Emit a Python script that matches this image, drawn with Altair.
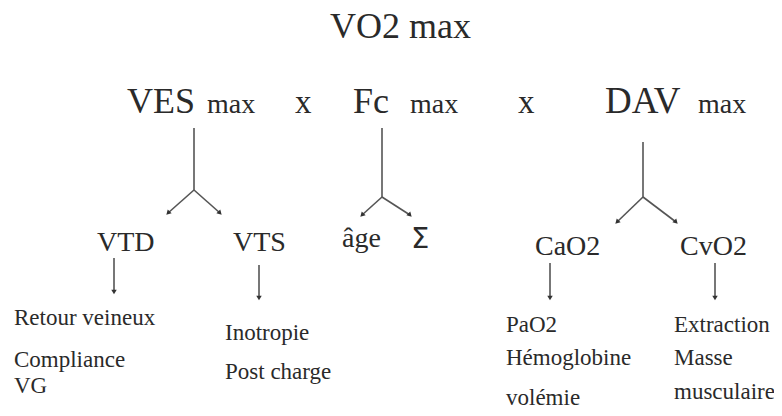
import altair as alt
import pandas as pd

# ---- text nodes (left edge x, baseline y, font size) ----
labels = ["VO2 max", "VES", "max", "x", "Fc", "max", "x", "DAV", "max",
          "VTD", "VTS", "âge", "CaO2", "CvO2",
          "Retour veineux", "Compliance", "VG", "Inotropie", "Post charge",
          "PaO2", "Hémoglobine", "volémie", "Extraction", "Masse", "musculaire"]
label_x = [330, 127, 207, 295, 353, 410, 518, 605, 698,
           97, 233, 342, 535, 680,
           14, 14, 14, 225, 225,
           506, 506, 506, 674, 674, 674]
label_y = [38, 113, 113, 113, 113, 113, 113, 113, 113,
           251, 251, 247, 255, 255,
           325, 367, 393, 340, 379,
           332, 365, 405, 332, 365, 399]
label_size = [36, 36, 28, 33, 36, 28, 33, 37, 28,
              28, 28, 28, 28, 28,
              23, 23, 23, 23, 23,
              23, 23, 23, 23, 23, 23]

# Sigma symbol (sans font)
sigma_label = ["Σ"]
sigma_x = [411]
sigma_y = [248]
sigma_size = [29]

# ---- connector segments ----
seg_x1 = [194, 194, 194, 382, 382, 382, 643, 643, 643, 114, 259, 550, 715]
seg_y1 = [128, 190, 190, 128, 197, 197, 142, 197, 197, 258, 265, 263, 263]
seg_x2 = [194, 168, 220, 382, 362, 410, 643, 617, 676, 114, 259, 550, 715]
seg_y2 = [190, 213, 213, 197, 215, 215, 197, 222, 222, 292, 298, 298, 298]

# ---- arrowheads (at segment ends) ----
head_x = [168, 220, 362, 410, 617, 676, 114, 259, 550, 715]
head_y = [213, 213, 215, 215, 222, 222, 292, 298, 298, 298]
head_angle = [45, 315, 45, 315, 45, 315, 0, 0, 0, 0]

text_df = pd.DataFrame({"label": labels, "x": label_x, "y": label_y, "size": label_size})
sigma_df = pd.DataFrame({"label": sigma_label, "x": sigma_x, "y": sigma_y, "size": sigma_size})
seg_df = pd.DataFrame({"x": seg_x1, "y": seg_y1, "x2": seg_x2, "y2": seg_y2})
head_df = pd.DataFrame({"x": head_x, "y": head_y, "angle": head_angle})

xs = alt.Scale(domain=[8, 774], nice=False, zero=False)
ys = alt.Scale(domain=[8, 408], nice=False, zero=False, reverse=True)

X = lambda f="x": alt.X(f"{f}:Q", scale=xs, axis=None)
Y = lambda f="y": alt.Y(f"{f}:Q", scale=ys, axis=None)

text_layer = alt.Chart(text_df).mark_text(
    align="left", baseline="alphabetic", font="Liberation Serif", color="#2a2a2a"
).encode(x=X(), y=Y(), text="label:N", size=alt.Size("size:Q", scale=None, legend=None))

sigma_layer = alt.Chart(sigma_df).mark_text(
    align="left", baseline="alphabetic", font="DejaVu Sans", color="#2a2a2a"
).encode(x=X(), y=Y(), text="label:N", size=alt.Size("size:Q", scale=None, legend=None))

seg_layer = alt.Chart(seg_df).mark_rule(color="#555555", strokeWidth=1.6).encode(
    x=X(), y=Y(), x2="x2:Q", y2="y2:Q"
)

head_layer = alt.Chart(head_df).mark_point(
    shape="triangle-down", filled=True, color="#333333", size=30, opacity=1
).encode(x=X(), y=Y(), angle=alt.Angle("angle:Q", scale=None))

chart = alt.layer(seg_layer, head_layer, text_layer, sigma_layer).properties(
    width=766, height=400, padding=0, autosize=alt.AutoSizeParams(type="none")
).configure(background="white", view=alt.ViewConfig(stroke=None, strokeWidth=0))

chart.save("out.html", embed_options={"renderer": "svg", "actions": False})
